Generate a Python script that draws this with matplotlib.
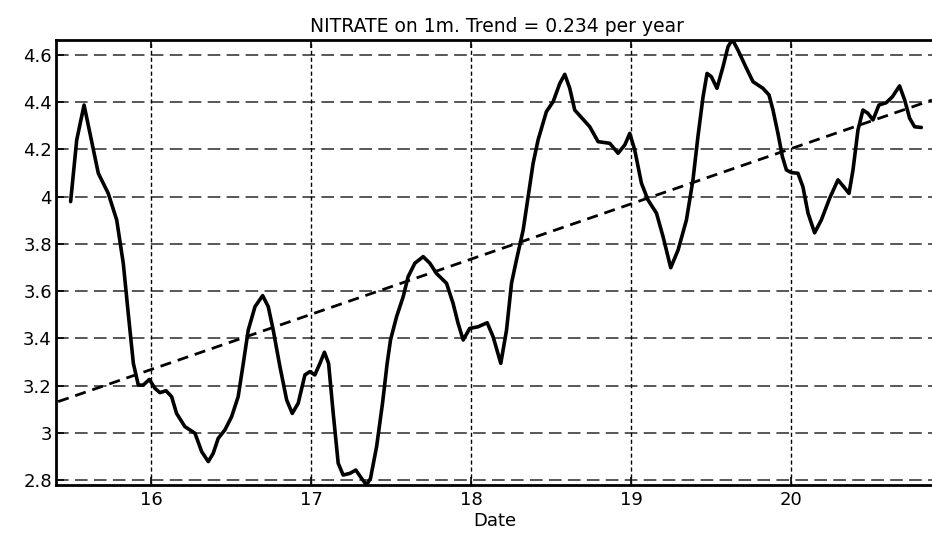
import matplotlib
matplotlib.use("Agg")
import matplotlib.pyplot as plt

# Nitrate series (year, value)
years = [15.498, 15.536, 15.582, 15.619, 15.671, 15.733, 15.786, 15.827, 15.858, 15.890,
         15.921, 15.952, 15.990, 16.025, 16.056, 16.094, 16.129, 16.160, 16.212, 16.275,
         16.317, 16.358, 16.389, 16.420, 16.462, 16.504, 16.545, 16.577, 16.608, 16.650,
         16.698, 16.733, 16.764, 16.806, 16.848, 16.883, 16.920, 16.962, 16.993, 17.024,
         17.056, 17.084, 17.110, 17.139, 17.170, 17.201, 17.243, 17.280, 17.316, 17.347,
         17.372, 17.410, 17.447, 17.476, 17.497, 17.535, 17.576, 17.607, 17.649, 17.701,
         17.743, 17.784, 17.847, 17.888, 17.919, 17.951, 17.992, 18.044, 18.101, 18.138,
         18.186, 18.222, 18.253, 18.284, 18.326, 18.357, 18.388, 18.419, 18.471, 18.513,
         18.555, 18.586, 18.617, 18.648, 18.700, 18.742, 18.794, 18.867, 18.919, 18.961,
         18.992, 19.023, 19.065, 19.106, 19.159, 19.200, 19.248, 19.294, 19.346, 19.387,
         19.418, 19.450, 19.475, 19.502, 19.537, 19.575, 19.606, 19.633, 19.668, 19.721,
         19.762, 19.824, 19.862, 19.887, 19.918, 19.946, 19.971, 20.002, 20.043, 20.074,
         20.106, 20.147, 20.189, 20.241, 20.293, 20.329, 20.362, 20.387, 20.418, 20.449,
         20.480, 20.512, 20.549, 20.595, 20.633, 20.678, 20.710, 20.741, 20.772, 20.814]
nitrate = [3.979, 4.240, 4.388, 4.268, 4.099, 4.014, 3.901, 3.718, 3.506, 3.294,
           3.202, 3.202, 3.226, 3.188, 3.170, 3.178, 3.153, 3.082, 3.026, 2.998,
           2.920, 2.878, 2.913, 2.976, 3.012, 3.068, 3.153, 3.294, 3.435, 3.534,
           3.581, 3.534, 3.435, 3.280, 3.139, 3.082, 3.125, 3.245, 3.259, 3.245,
           3.294, 3.341, 3.294, 3.082, 2.871, 2.821, 2.828, 2.842, 2.807, 2.779,
           2.807, 2.941, 3.125, 3.294, 3.393, 3.492, 3.576, 3.661, 3.718, 3.746,
           3.718, 3.675, 3.633, 3.548, 3.464, 3.393, 3.442, 3.449, 3.466, 3.407,
           3.294, 3.435, 3.633, 3.732, 3.859, 4.000, 4.141, 4.240, 4.360, 4.402,
           4.480, 4.518, 4.459, 4.367, 4.328, 4.296, 4.233, 4.226, 4.184, 4.219,
           4.268, 4.198, 4.057, 3.986, 3.930, 3.831, 3.699, 3.774, 3.901, 4.071,
           4.254, 4.423, 4.522, 4.508, 4.459, 4.551, 4.635, 4.666, 4.621, 4.544,
           4.487, 4.459, 4.431, 4.367, 4.268, 4.169, 4.113, 4.102, 4.099, 4.042,
           3.930, 3.847, 3.901, 3.993, 4.071, 4.042, 4.014, 4.113, 4.282, 4.367,
           4.353, 4.325, 4.388, 4.398, 4.423, 4.469, 4.409, 4.332, 4.296, 4.293]

# Linear trend end points (0.234 per year)
trend_x = [15.42, 20.88]
trend_y = [3.132, 4.409]

xticks = [16, 17, 18, 19, 20]
yticks = [2.8, 3.0, 3.2, 3.4, 3.6, 3.8, 4.0, 4.2, 4.4, 4.6]
ytick_labels = ["2.8", "3", "3.2", "3.4", "3.6", "3.8", "4", "4.2", "4.4", "4.6"]

plt.rcParams['font.family'] = ['DejaVu Sans']

fig = plt.figure(figsize=(9.32, 5.34), dpi=100)
ax = fig.add_axes([56/932, 1 - 485/534, 1 - 56/932, (485 - 40)/534])

ax.set_xlim(15.4066, 20.8807)
ax.set_ylim(2.7788, 4.6635)

# grid lines
for yv in yticks:
    ax.axhline(yv, color='#4a4a4a', lw=1.3, ls=(0, (7, 3.5)), zorder=1)
for xv in xticks:
    ax.axvline(xv, color='black', lw=1.0, ls=(0, (3, 2)), zorder=1)

ax.plot(years, nitrate, color='black', lw=2.6, zorder=3,
        solid_joinstyle='round', solid_capstyle='round')
ax.plot(trend_x, trend_y, color='black', lw=2.0, ls=(0, (4, 2.5)), zorder=2)

ax.set_xticks(xticks)
ax.set_xticklabels([str(t) for t in xticks])
ax.set_yticks(yticks)
ax.set_yticklabels(ytick_labels)
ax.tick_params(direction='in', length=6, width=1.2, labelsize=13, top=True, right=False)
ax.tick_params(axis='x', pad=4)
ax.tick_params(axis='y', pad=3)

for side in ['left', 'bottom', 'top']:
    ax.spines[side].set_linewidth(2.0)
ax.spines['right'].set_visible(False)

ax.set_title("NITRATE on 1m. Trend = 0.234 per year", fontsize=13.5, pad=6,
             x=(497 - 56) / 876)
ax.set_xlabel("Date", fontsize=13)
ax.xaxis.set_label_coords((495 - 56) / 876, (485 - 521) / 445)
ax.xaxis.label.set_va('center')

fig.savefig("out.png", dpi=100)
